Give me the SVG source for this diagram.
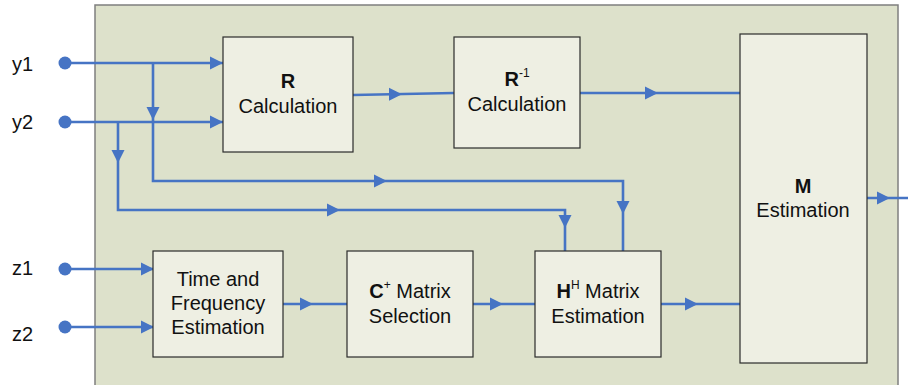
<svg xmlns="http://www.w3.org/2000/svg" width="908" height="385" viewBox="0 0 908 385">
<style>
.box{fill:#eeefe3;stroke:#2b2b2b;stroke-width:1.2}
.t{font-family:"Liberation Sans",Arial,sans-serif;font-size:20px;fill:#111;text-anchor:middle}
.b{font-weight:bold}
.sup{font-size:12px}
.lab{font-family:"Liberation Sans",Arial,sans-serif;font-size:20px;fill:#111}
.ln{fill:none;stroke:#4674c4;stroke-width:2.6}
.ah{fill:#4674c4}
.dot{fill:#4674c4}
</style>
<defs>
<path id="arr" d="M0,0 L-13,-6.5 L-13,6.5 Z"/>
</defs>
<rect id="panel" x="95" y="5" width="803" height="390" fill="#dde1cb" stroke="#7f7f7f" stroke-width="1.5"/>

<g id="connectors">
<path class="ln" d="M65,63 H223"/>
<path class="ln" d="M65,122 H223"/>
<path class="ln" d="M153,63 V181 H623 V251"/>
<path class="ln" d="M118,122 V210 H565 V251"/>
<path class="ln" d="M353,95 L454,93"/>
<path class="ln" d="M580,93 H740"/>
<path class="ln" d="M867,198 H908"/>
<path class="ln" d="M65,269 H153"/>
<path class="ln" d="M65,327 H153"/>
<path class="ln" d="M283,304 H347"/>
<path class="ln" d="M473,304 H535"/>
<path class="ln" d="M661,304 H740"/>
<g class="ah">
<use href="#arr" transform="translate(223,63)"/>
<use href="#arr" transform="translate(223,122)"/>
<use href="#arr" transform="translate(153,120) rotate(90)"/>
<use href="#arr" transform="translate(118,163) rotate(90)"/>
<use href="#arr" transform="translate(387,181)"/>
<use href="#arr" transform="translate(340,210)"/>
<use href="#arr" transform="translate(565,228) rotate(90)"/>
<use href="#arr" transform="translate(623,214) rotate(90)"/>
<use href="#arr" transform="translate(402,94.3)"/>
<use href="#arr" transform="translate(658,93)"/>
<use href="#arr" transform="translate(890,198)"/>
<use href="#arr" transform="translate(154,269)"/>
<use href="#arr" transform="translate(154,327)"/>
<use href="#arr" transform="translate(313,304)"/>
<use href="#arr" transform="translate(503,304)"/>
<use href="#arr" transform="translate(698,304)"/>
</g>
</g>

<g id="in-y1"><circle class="dot" cx="65" cy="63" r="6.5"/><text class="lab" x="12" y="71">y1</text></g>
<g id="in-y2"><circle class="dot" cx="65" cy="122" r="6.5"/><text class="lab" x="12" y="129">y2</text></g>
<g id="in-z1"><circle class="dot" cx="65" cy="269" r="6.5"/><text class="lab" x="12" y="275">z1</text></g>
<g id="in-z2"><circle class="dot" cx="65" cy="327" r="6.5"/><text class="lab" x="12" y="341">z2</text></g>

<g id="r-calc">
<rect class="box" x="223" y="37" width="130" height="115"/>
<text class="t b" x="288" y="88">R</text>
<text class="t" x="288" y="113">Calculation</text>
</g>
<g id="rinv-calc">
<rect class="box" x="454" y="37" width="126" height="111"/>
<text class="t" x="517" y="86"><tspan class="b">R</tspan><tspan class="sup" dy="-9">-1</tspan></text>
<text class="t" x="517" y="111">Calculation</text>
</g>
<g id="m-est">
<rect class="box" x="740" y="34" width="127" height="329"/>
<text class="t b" x="803" y="193">M</text>
<text class="t" x="803" y="217">Estimation</text>
</g>
<g id="tf-est">
<rect class="box" x="153" y="251" width="130" height="106"/>
<text class="t" x="218" y="286">Time and</text>
<text class="t" x="218" y="310">Frequency</text>
<text class="t" x="218" y="334">Estimation</text>
</g>
<g id="c-sel">
<rect class="box" x="347" y="251" width="126" height="106"/>
<text class="t" x="410" y="298"><tspan class="b">C</tspan><tspan class="sup" dy="-9">+</tspan><tspan dy="9"> Matrix</tspan></text>
<text class="t" x="410" y="323">Selection</text>
</g>
<g id="h-est">
<rect class="box" x="535" y="251" width="126" height="106"/>
<text class="t" x="598" y="298"><tspan class="b">H</tspan><tspan class="sup" dy="-9">H</tspan><tspan dy="9"> Matrix</tspan></text>
<text class="t" x="598" y="323">Estimation</text>
</g>
</svg>
